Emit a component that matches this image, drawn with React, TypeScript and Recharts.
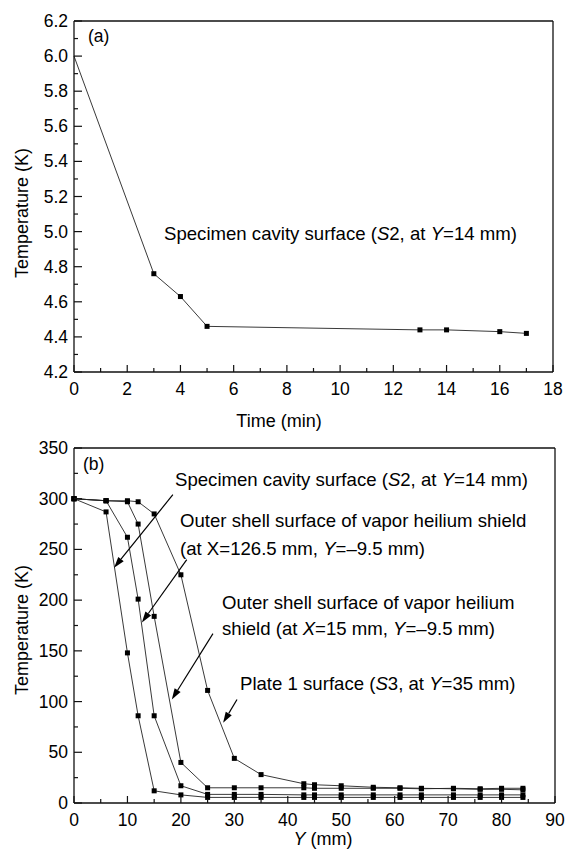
import { LineChart, Line, XAxis, YAxis, ReferenceLine } from 'recharts'

// (a) specimen cavity surface vs time
const timeMin = [0, 3, 4, 5, 13, 14, 16, 17]
const cavityTempK = [6.0, 4.76, 4.63, 4.46, 4.44, 4.44, 4.43, 4.42]

// (b) temperature profiles along Y
const posYmm = [0, 6, 10, 12, 15, 20, 25, 30, 35, 43, 45, 50, 56, 61, 65, 71, 76, 80, 84]
const specimenS2 = [300, 287, 148, 86, 12, 8, 5.5, 5.5, 5.5, 5.5, 5.5, 5.5, 5.5, 5.5, 5.5, 5.5, 5.5, 5.5, 5.5]
const shellX126 = [300, 298, 262, 201, 86, 17, 8.5, 8.5, 8.5, 8, 8, 8, 8, 8, 8, 8, 8, 8, 8]
const shellX15 = [300, 298, 297, 275, 184, 40, 15, 15, 15, 15, 14.5, 14.5, 14.5, 14.5, 14, 14.5, 14, 14.5, 14.5]
const plate1S3 = [300, 298, 298, 297, 285, 225, 111, 44, 28, 19, 18, 17, 15.5, 15, 14.5, 14, 13.5, 13.5, 13]

const timeTicks = [0, 1, 2, 3, 4, 5, 6, 7, 8, 9, 10, 11, 12, 13, 14, 15, 16, 17, 18]
const tempTicksA = [4.2, 4.3, 4.4, 4.5, 4.6, 4.7, 4.8, 4.9, 5.0, 5.1, 5.2, 5.3, 5.4, 5.5, 5.6, 5.7, 5.8, 5.9, 6.0, 6.1, 6.2]
const posTicks = [0, 5, 10, 15, 20, 25, 30, 35, 40, 45, 50, 55, 60, 65, 70, 75, 80, 85, 90]
const tempTicksB = [0, 25, 50, 75, 100, 125, 150, 175, 200, 225, 250, 275, 300, 325, 350]

const dataA = timeMin.map((t, i) => ({ t, temp: cavityTempK[i] }))
const dataB = posYmm.map((y, i) => ({
  y,
  s2: specimenS2[i],
  x126: shellX126[i],
  x15: shellX15[i],
  s3: plate1S3[i]
}))

const FONT = '"Liberation Sans", Arial, sans-serif'
const INK = '#111'
const TICK_FS = 17.5
const NOTE_FS = 18.6

const XTick = ({ x, y, payload, isMajor, fmt }: any) => {
  const v = payload.value
  const major = isMajor(v)
  return (
    <g>
      <line x1={x} y1={y} x2={x} y2={y - (major ? 7 : 4)} stroke={INK} strokeWidth={1.2} />
      {major && (
        <text x={x} y={y + 23} textAnchor="middle" fontSize={TICK_FS} fontFamily={FONT} fill="#000">
          {fmt(v)}
        </text>
      )}
    </g>
  )
}

const YTick = ({ x, y, payload, isMajor, fmt }: any) => {
  const v = payload.value
  const major = isMajor(v)
  return (
    <g>
      <line x1={x} y1={y} x2={x + (major ? 8 : 4)} y2={y} stroke={INK} strokeWidth={1.2} />
      {major && (
        <text x={x - 6} y={y + 6} textAnchor="end" fontSize={TICK_FS} fontFamily={FONT} fill="#000">
          {fmt(v)}
        </text>
      )}
    </g>
  )
}

const Square = ({ cx, cy, index, skipFirst }: any) => {
  if (cx == null || cy == null) return null
  if (skipFirst && index === 0) return <g />
  return <rect x={cx - 2.5} y={cy - 2.5} width={5} height={5} fill="#000" />
}

const Arrow = ({ x1, y1, x2, y2 }: any) => {
  const a = Math.atan2(y2 - y1, x2 - x1)
  const len = 11
  const w = 3.5
  const bx = x2 - len * Math.cos(a)
  const by = y2 - len * Math.sin(a)
  const px = -Math.sin(a) * w
  const py = Math.cos(a) * w
  return (
    <g>
      <line x1={x1} y1={y1} x2={bx} y2={by} stroke="#000" strokeWidth={1.2} />
      <polygon points={`${x2},${y2} ${bx + px},${by + py} ${bx - px},${by - py}`} fill="#000" />
    </g>
  )
}

const evenInt = (v: number) => Math.round(v) % 2 === 0
const evenTenth = (v: number) => Math.round(v * 10) % 2 === 0
const per10 = (v: number) => v % 10 === 0
const per50 = (v: number) => v % 50 === 0

const lineStyle = { stroke: '#222', strokeWidth: 0.9 }

export default function App() {
  return (
    <div style={{ position: 'absolute', left: 0, top: 0, width: 571, height: 851, background: '#fff' }}>
      <div style={{ position: 'absolute', left: 0, top: 0 }}>
        <LineChart width={571} height={400} data={dataA} margin={{ top: 21, right: 18, left: 0, bottom: 0 }}>
          <XAxis
            dataKey="t"
            type="number"
            domain={[0, 18]}
            ticks={timeTicks}
            interval={0}
            height={28}
            tickSize={0}
            tickMargin={0}
            stroke={INK}
            strokeWidth={1.3}
            tick={(p: any) => <XTick {...p} isMajor={evenInt} fmt={(v: number) => String(v)} />}
          />
          <YAxis
            type="number"
            domain={[4.2, 6.2]}
            ticks={tempTicksA}
            interval={0}
            width={74}
            tickSize={0}
            tickMargin={0}
            stroke={INK}
            strokeWidth={1.3}
            tick={(p: any) => <YTick {...p} isMajor={evenTenth} fmt={(v: number) => v.toFixed(1)} />}
          />
          <ReferenceLine y={6.2} stroke={INK} strokeWidth={1.3} />
          <ReferenceLine x={18} stroke={INK} strokeWidth={1.3} />
          <Line
            dataKey="temp"
            type="linear"
            {...lineStyle}
            dot={(p: any) => <Square key={p.index} {...p} skipFirst />}
            activeDot={false}
            isAnimationActive={false}
          />
        </LineChart>
      </div>

      <div style={{ position: 'absolute', left: 0, top: 430 }}>
        <LineChart width={571} height={400} data={dataB} margin={{ top: 18, right: 16, left: 0, bottom: 0 }}>
          <XAxis
            dataKey="y"
            type="number"
            domain={[0, 90]}
            ticks={posTicks}
            interval={0}
            height={27}
            tickSize={0}
            tickMargin={0}
            stroke={INK}
            strokeWidth={1.3}
            tick={(p: any) => <XTick {...p} isMajor={per10} fmt={(v: number) => String(v)} />}
          />
          <YAxis
            type="number"
            domain={[0, 350]}
            ticks={tempTicksB}
            interval={0}
            width={74}
            tickSize={0}
            tickMargin={0}
            stroke={INK}
            strokeWidth={1.3}
            tick={(p: any) => <YTick {...p} isMajor={per50} fmt={(v: number) => String(v)} />}
          />
          <ReferenceLine y={350} stroke={INK} strokeWidth={1.3} />
          <ReferenceLine x={90} stroke={INK} strokeWidth={1.3} />
          {['s2', 'x126', 'x15', 's3'].map((k) => (
            <Line
              key={k}
              dataKey={k}
              type="linear"
              {...lineStyle}
              dot={(p: any) => <Square key={p.index} {...p} />}
              activeDot={false}
              isAnimationActive={false}
            />
          ))}
          <ReferenceLine segment={[{ x: 18.5, y: 304 }, { x: 7.5, y: 232 }]} shape={(p: any) => <Arrow {...p} />} />
          <ReferenceLine segment={[{ x: 21.1, y: 240 }, { x: 12.7, y: 178 }]} shape={(p: any) => <Arrow {...p} />} />
          <ReferenceLine segment={[{ x: 26.0, y: 167 }, { x: 18.3, y: 102 }]} shape={(p: any) => <Arrow {...p} />} />
          <ReferenceLine segment={[{ x: 30.5, y: 102 }, { x: 27.9, y: 79 }]} shape={(p: any) => <Arrow {...p} />} />
        </LineChart>
      </div>

      <svg
        width={571}
        height={851}
        style={{ position: 'absolute', left: 0, top: 0, pointerEvents: 'none' }}
        fontFamily={FONT}
        fill="#000"
      >
        <text x={88} y={42} fontSize={17.5}>(a)</text>
        <text x={164} y={240} fontSize={NOTE_FS}>
          Specimen cavity surface (<tspan fontStyle="italic">S</tspan>2, at <tspan fontStyle="italic">Y</tspan>=14 mm)
        </text>
        <text x={279} y={427} fontSize={18} textAnchor="middle">Time (min)</text>
        <text transform="translate(28,213) rotate(-90)" fontSize={18} textAnchor="middle">Temperature (K)</text>

        <text x={83} y={470} fontSize={17.5}>(b)</text>
        <text x={175} y={486} fontSize={NOTE_FS}>
          Specimen cavity surface (<tspan fontStyle="italic">S</tspan>2, at <tspan fontStyle="italic">Y</tspan>=14 mm)
        </text>
        <text x={180} y={527} fontSize={NOTE_FS}>Outer shell surface of vapor heilium shield</text>
        <text x={180} y={555} fontSize={NOTE_FS}>
          (at X=126.5 mm, <tspan fontStyle="italic">Y</tspan>=–9.5 mm)
        </text>
        <text x={222} y={609} fontSize={NOTE_FS}>Outer shell surface of vapor heilium</text>
        <text x={222} y={635} fontSize={NOTE_FS}>
          shield (at <tspan fontStyle="italic">X</tspan>=15 mm, <tspan fontStyle="italic">Y</tspan>=–9.5 mm)
        </text>
        <text x={240} y={690} fontSize={NOTE_FS}>
          Plate 1 surface (<tspan fontStyle="italic">S</tspan>3, at <tspan fontStyle="italic">Y</tspan>=35 mm)
        </text>
        <text x={323} y={845} fontSize={18} textAnchor="middle">
          <tspan fontStyle="italic">Y</tspan> (mm)
        </text>
        <text transform="translate(28,630) rotate(-90)" fontSize={18} textAnchor="middle">Temperature (K)</text>
      </svg>
    </div>
  )
}
